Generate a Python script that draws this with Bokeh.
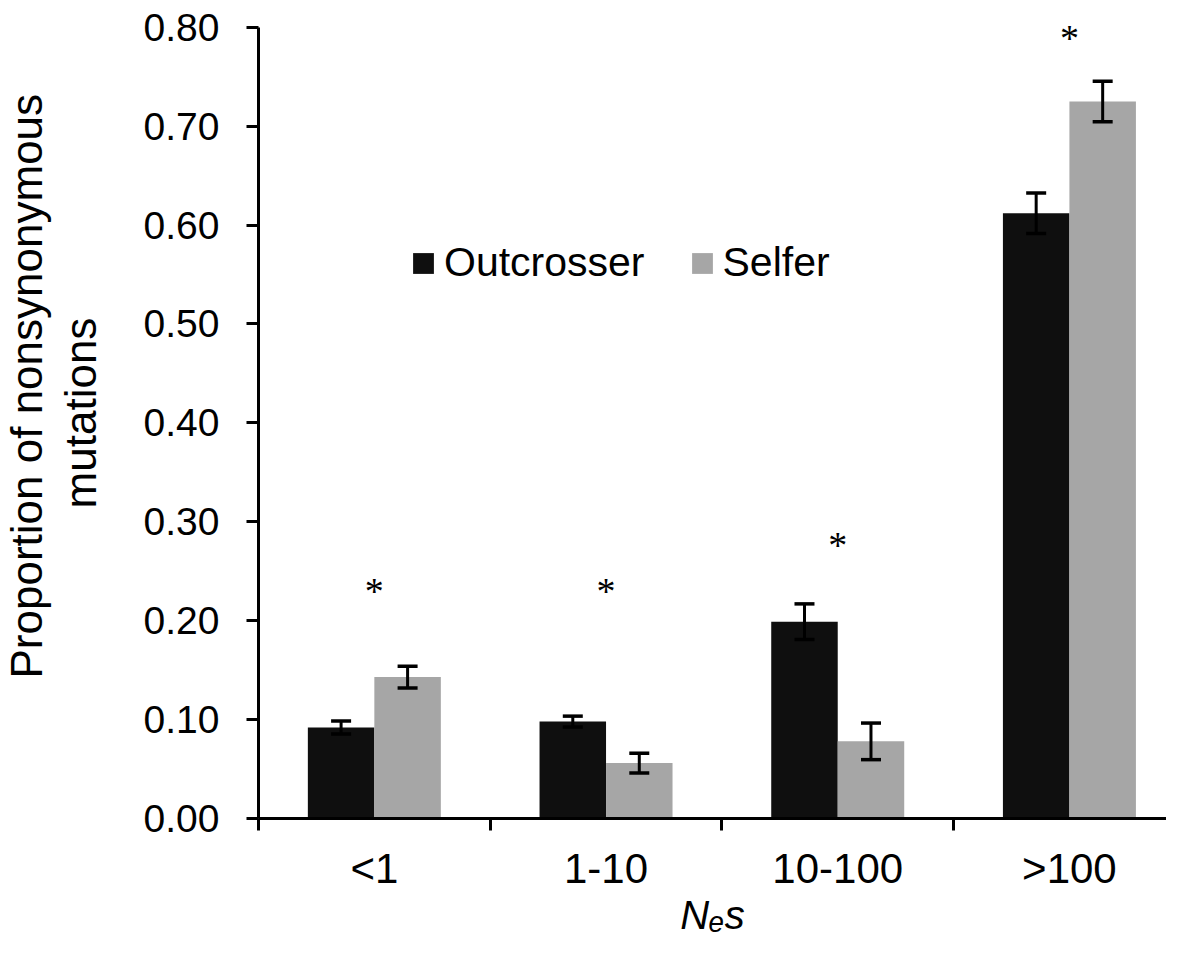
from bokeh.plotting import figure
from bokeh.models import (Range1d, FixedTicker, NumeralTickFormatter, Whisker, TeeHead,
                          ColumnDataSource, LabelSet, Legend, LegendItem, Title)
from bokeh.transform import dodge
from bokeh.embed import file_html
from bokeh.resources import INLINE

# ---------------- data ----------------
categories = ["<1", "1-10", "10-100", ">100"]
outcrosser = [0.092, 0.098, 0.199, 0.612]
outcrosser_err = [0.0065, 0.0055, 0.018, 0.0205]
selfer = [0.143, 0.056, 0.078, 0.725]
selfer_err = [0.011, 0.010, 0.0185, 0.0205]
star_height = [0.230, 0.230, 0.277, 0.789]
y_ticks = [0.0, 0.1, 0.2, 0.3, 0.4, 0.5, 0.6, 0.7, 0.8]
series_names = ["Outcrosser", "Selfer"]
series_colors = ["#0f0f0f", "#a6a6a6"]

FONT = "Liberation Sans"
BAR_W = 0.287
OFF = BAR_W / 2

centers = [i + 0.5 for i in range(len(categories))]

p = figure(width=1166, height=939, output_backend="svg", toolbar_location=None,
           x_range=Range1d(0, 3.919), y_range=Range1d(0, 0.82),
           min_border_left=258, min_border_right=0, min_border_top=7,
           min_border_bottom=119)
p.outline_line_color = None
p.xgrid.visible = False
p.ygrid.visible = False
p.background_fill_color = "white"
p.border_fill_color = "white"

src = ColumnDataSource(dict(
    x=centers, cat=categories,
    out=outcrosser, out_hi=[v + e for v, e in zip(outcrosser, outcrosser_err)],
    out_lo=[v - e for v, e in zip(outcrosser, outcrosser_err)],
    sel=selfer, sel_hi=[v + e for v, e in zip(selfer, selfer_err)],
    sel_lo=[v - e for v, e in zip(selfer, selfer_err)],
    star=star_height, star_t=["*"] * len(categories),
))

r_out = p.vbar(x=dodge("x", -OFF, range=p.x_range), top="out", width=BAR_W, bottom=0,
               source=src, fill_color=series_colors[0], line_color=None)
r_sel = p.vbar(x=dodge("x", OFF, range=p.x_range), top="sel", width=BAR_W, bottom=0,
               source=src, fill_color=series_colors[1], line_color=None)

for key, off in (("out", -OFF), ("sel", OFF)):
    w = Whisker(base=dodge("x", off, range=p.x_range), upper=key + "_hi", lower=key + "_lo",
                source=src, line_width=3, line_color="black", level="annotation",
                upper_head=TeeHead(size=20, line_width=3.5, line_color="black"),
                lower_head=TeeHead(size=20, line_width=3.5, line_color="black"))
    p.add_layout(w)

stars = LabelSet(x="x", y="star", text="star_t", source=src, text_align="center",
                 text_baseline="middle", text_font=FONT, text_font_size="38px",
                 text_color="black")
p.add_layout(stars)

# ---------------- axes ----------------
xa = p.xaxis[0]
xa.ticker = FixedTicker(ticks=centers, minor_ticks=[0, 1, 2, 3, 4])
xa.major_label_overrides = {c: cat for c, cat in zip(centers, categories)}
xa.major_tick_out = 0
xa.major_tick_in = 0
xa.minor_tick_out = 12
xa.minor_tick_in = 0
xa.minor_tick_line_width = 3
xa.minor_tick_line_color = "black"
xa.axis_line_width = 3
xa.axis_line_color = "black"
xa.major_label_text_font = FONT
xa.major_label_text_font_size = "42px"
xa.major_label_text_color = "black"
xa.major_label_standoff = 14
xa.axis_label = "N\u2091s"
xa.axis_label_text_font = FONT
xa.axis_label_text_font_style = "italic"
xa.axis_label_text_font_size = "40px"
xa.axis_label_text_color = "black"
xa.axis_label_standoff = -2

ya = p.yaxis[0]
ya.bounds = (0, 0.8)
ya.ticker = FixedTicker(ticks=y_ticks, minor_ticks=[])
ya.formatter = NumeralTickFormatter(format="0.00")
ya.major_tick_out = 12
ya.major_tick_in = 0
ya.major_tick_line_width = 3
ya.major_tick_line_color = "black"
ya.minor_tick_out = 0
ya.minor_tick_in = 0
ya.axis_line_width = 3
ya.axis_line_color = "black"
ya.major_label_text_font = FONT
ya.major_label_text_font_size = "39px"
ya.major_label_text_color = "black"
ya.major_label_standoff = 27
# second line of the y title is the axis label itself
ya.axis_label = "mutations"
ya.axis_label_text_font = FONT
ya.axis_label_text_font_size = "44px"
ya.axis_label_text_font_style = "normal"
ya.axis_label_text_color = "black"
ya.axis_label_standoff = 36

# first line of the y title, as an outer side title
t1 = Title(text="Proportion of nonsynonymous", align="left", offset=140, standoff=0,
           vertical_align="top",
           text_font=FONT, text_font_size="44px", text_font_style="normal",
           text_color="black")
p.add_layout(t1, "left")

# legend
legend = Legend(items=[LegendItem(label=series_names[0], renderers=[r_out]),
                       LegendItem(label=series_names[1], renderers=[r_sel])],
                location=(152, 532), orientation="horizontal", glyph_width=26,
                glyph_height=26, label_text_font=FONT, label_text_font_size="41px",
                label_text_color="black",
                label_standoff=8, spacing=44, padding=0, margin=0,
                border_line_color=None, background_fill_alpha=0)
p.add_layout(legend)

open("out.html", "w").write(file_html(p, INLINE))
